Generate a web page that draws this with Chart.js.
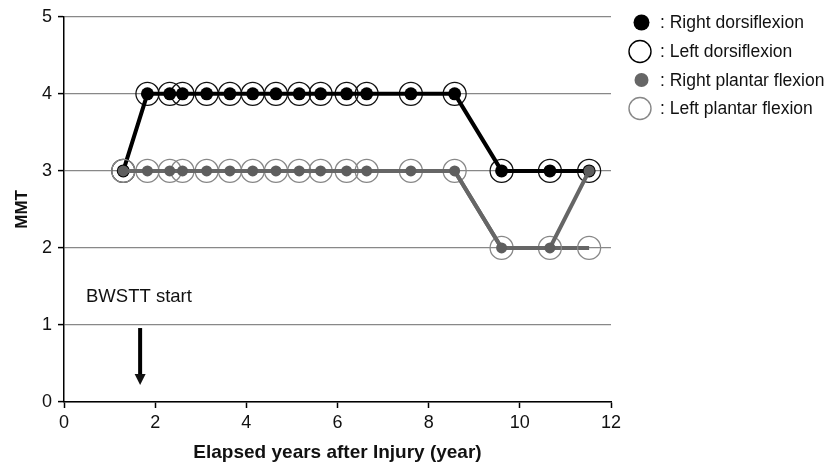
<!DOCTYPE html>
<html>
<head>
<meta charset="utf-8">
<script src="https://cdn.jsdelivr.net/npm/chart.js@4"></script>
<style>
  html, body { margin: 0; padding: 0; background: #fff; }
  #wrap { width: 826px; height: 468px; }
</style>
</head>
<body>
<div id="wrap"><canvas id="mmtChart" width="826" height="468"></canvas></div>
<script>
// elapsed years after injury for each assessment
const years = [1.3, 1.83, 2.32, 2.6, 3.13, 3.64, 4.14, 4.65, 5.16, 5.63, 6.2, 6.64, 7.61, 8.57, 9.6, 10.66, 11.52]
const rightDorsi = [3, 4, 4, 4, 4, 4, 4, 4, 4, 4, 4, 4, 4, 4, 3, 3, 3]
const leftDorsi = [3, 4, 4, 4, 4, 4, 4, 4, 4, 4, 4, 4, 4, 4, 3, 3, 3]
const rightPlantar = [3, 3, 3, 3, 3, 3, 3, 3, 3, 3, 3, 3, 3, 3, 2, 2, 3]
const leftPlantar = [3, 3, 3, 3, 3, 3, 3, 3, 3, 3, 3, 3, 3, 3, 2, 2, 2]
const xTicks = [0, 2, 4, 6, 8, 10, 12]
const yTicks = [0, 1, 2, 3, 4, 5]
const legendLabels = [': Right dorsiflexion', ': Left dorsiflexion', ': Right plantar flexion', ': Left plantar flexion']
const bwsttYear = 1.67

const pts = (vals) => vals.map((v, i) => ({ x: years[i], y: v }))

const FONT = "'Liberation Sans', Arial, sans-serif"

const extras = {
    id: 'extras',
    afterDraw(chart) {
        const ctx = chart.ctx
        const xs = chart.scales.x
        const ys = chart.scales.y
        ctx.save()
        // BWSTT annotation
        ctx.fillStyle = '#111'
        ctx.font = '18.5px ' + FONT
        ctx.textBaseline = 'middle'
        ctx.fillText('BWSTT start', 86, ys.getPixelForValue(1.36))
        const ax = xs.getPixelForValue(bwsttYear)
        const top = ys.getPixelForValue(0.96)
        const tip = ys.getPixelForValue(0.22)
        ctx.strokeStyle = '#000'
        ctx.lineWidth = 4
        ctx.beginPath()
        ctx.moveTo(ax, top)
        ctx.lineTo(ax, tip - 9)
        ctx.stroke()
        ctx.beginPath()
        ctx.moveTo(ax - 5.5, tip - 11)
        ctx.lineTo(ax + 5.5, tip - 11)
        ctx.lineTo(ax, tip)
        ctx.closePath()
        ctx.fill()

        // legend
        const lx = 641.5
        const rows = [22.5, 51.5, 80, 108.5]
        ctx.font = '17.5px ' + FONT
        ctx.textBaseline = 'middle'
        rows.forEach((y, i) => {
            ctx.beginPath()
            if (i === 0) {
                ctx.fillStyle = '#000'
                ctx.arc(lx, y, 8, 0, Math.PI * 2)
                ctx.fill()
            } else if (i === 1) {
                ctx.strokeStyle = '#000'
                ctx.lineWidth = 1.4
                ctx.arc(lx - 1.5, y, 11, 0, Math.PI * 2)
                ctx.stroke()
            } else if (i === 2) {
                ctx.fillStyle = '#666'
                ctx.arc(lx, y, 7, 0, Math.PI * 2)
                ctx.fill()
            } else {
                ctx.strokeStyle = '#888'
                ctx.lineWidth = 1.4
                ctx.arc(lx - 1.5, y, 11, 0, Math.PI * 2)
                ctx.stroke()
            }
            ctx.fillStyle = '#111'
            ctx.fillText(legendLabels[i], 660, y + 1)
        })
        ctx.restore()
    }
}

new Chart(document.getElementById('mmtChart'), {
    type: 'line',
    data: {
        datasets: [
            {
                label: 'Right plantar flexion',
                data: pts(rightPlantar),
                borderColor: '#666',
                backgroundColor: '#5e5e5e',
                borderWidth: 4,
                pointRadius: 5.5,
                pointBorderWidth: 0,
                pointHoverRadius: 5.5
            },
            {
                label: 'Left plantar flexion',
                data: pts(leftPlantar),
                borderColor: '#666',
                borderWidth: 4,
                pointRadius: 11.5,
                pointBackgroundColor: 'rgba(0,0,0,0)',
                pointBorderColor: '#888',
                pointBorderWidth: 1.3,
                pointHoverRadius: 11.5
            },
            {
                label: 'Right dorsiflexion',
                data: pts(rightDorsi),
                borderColor: '#000',
                backgroundColor: '#000',
                borderWidth: 4,
                pointRadius: 6.5,
                pointBorderWidth: 0,
                pointHoverRadius: 6.5
            },
            {
                label: 'Left dorsiflexion',
                data: pts(leftDorsi),
                showLine: false,
                pointRadius: 11.5,
                pointBackgroundColor: 'rgba(0,0,0,0)',
                pointBorderColor: '#111',
                pointBorderWidth: 1.3,
                pointHoverRadius: 11.5
            }
        ]
    },
    options: {
        responsive: false,
        animation: false,
        layout: { padding: { top: 15, right: 215, left: 0, bottom: 0 } },
        plugins: {
            legend: { display: false },
            tooltip: { enabled: false }
        },
        scales: {
            x: {
                type: 'linear',
                min: 0,
                max: 12,
                afterBuildTicks: (s) => { s.ticks = xTicks.map((v) => ({ value: v })) },
                afterFit: (s) => { s.height = 66 },
                border: { color: '#000', width: 1.5 },
                grid: { drawOnChartArea: false, tickColor: '#000', tickLength: 6, tickWidth: 1.5 },
                ticks: { color: '#111', font: { family: FONT, size: 18 }, padding: 4 },
                title: {
                    display: true,
                    text: 'Elapsed years after Injury (year)',
                    color: '#111',
                    font: { family: FONT, size: 19, weight: 'bold' },
                    padding: { top: 0 }
                }
            },
            y: {
                min: 0,
                max: 5,
                afterBuildTicks: (s) => { s.ticks = yTicks.map((v) => ({ value: v })) },
                afterFit: (s) => { s.width = 64 },
                border: { color: '#000', width: 1.5 },
                grid: { color: '#888', lineWidth: 1.2, tickColor: '#000', tickLength: 6, tickWidth: 1.5 },
                ticks: { color: '#111', font: { family: FONT, size: 18 }, padding: 6 },
                title: {
                    display: true,
                    text: 'MMT',
                    color: '#111',
                    font: { family: FONT, size: 17, weight: 'bold' },
                    padding: { top: 12, bottom: 0 }
                }
            }
        }
    },
    plugins: [extras]
})
</script>
</body>
</html>
